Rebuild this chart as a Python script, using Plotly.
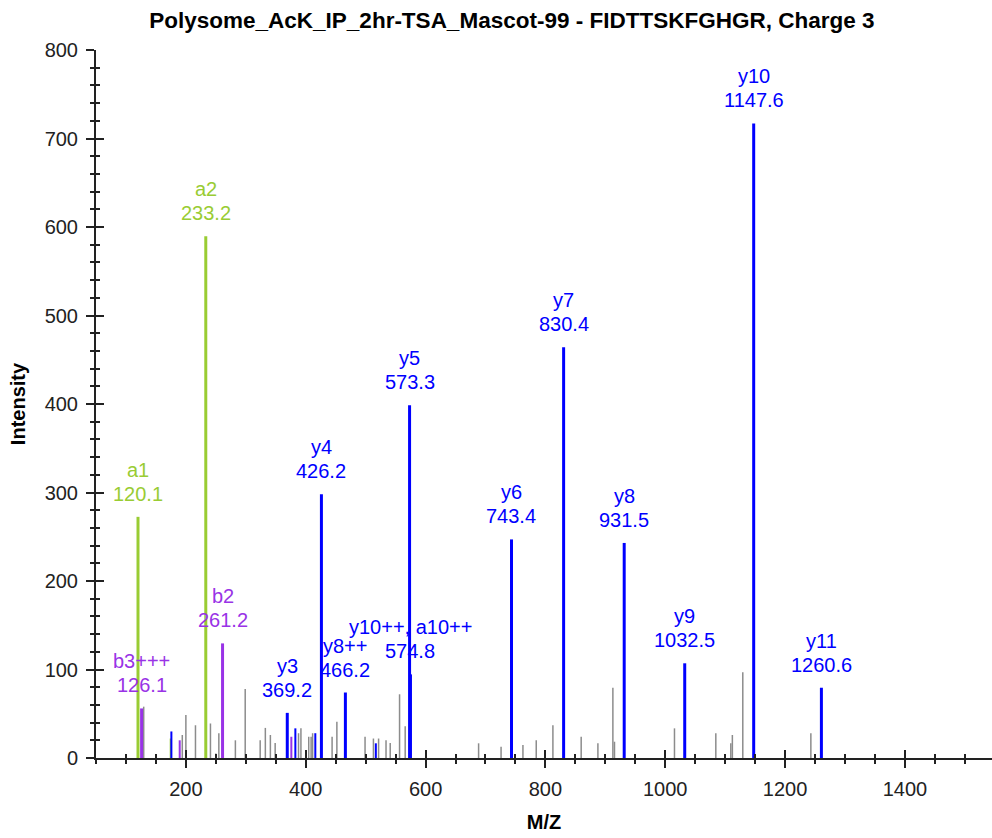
import plotly.graph_objects as go

# ---------------- data ----------------
label_names = ["a1", "b3+++", "a2", "b2", "y3", "y4", "y8++", "y5", "y10++, a10++",
               "y6", "y7", "y8", "y9", "y10", "y11"]
label_mz = [120.1, 126.1, 233.2, 261.2, 369.2, 426.2, 466.2, 573.3, 574.8,
            743.4, 830.4, 931.5, 1032.5, 1147.6, 1260.6]
label_int = [272.5, 56, 589.5, 129.5, 51, 298, 74, 398.6, 94.5,
             247, 464, 243, 107, 717, 79.4]
label_ion = ["a", "b", "a", "b", "y", "y", "y", "y", "y",
             "y", "y", "y", "y", "y", "y"]

blue_extra_mz = [175.8, 382.7, 416.0, 517.0]
blue_extra_int = [30, 33.5, 28, 16.6]
green_extra_mz = [174.7]
green_extra_int = [22]
purple_extra_mz = [189.7, 376.0]
purple_extra_int = [20, 24]

gray_mz = [129.6, 194, 200, 216, 241, 250, 255, 282.6, 299, 324, 332.6, 341, 349,
           388, 392, 405, 409, 411.5, 444, 452, 499, 513, 521.6, 534, 541, 556.6, 566,
           688.5, 726, 762.5, 784.7, 812.5, 859.7, 887.6, 912.6, 915.3,
           1015.4, 1084.4, 1109.4, 1112, 1129.4, 1243]
gray_int = [58, 26, 48.5, 37, 39, 5, 28, 20, 78, 20, 34, 26, 17,
            28, 33.5, 24, 24, 28, 24, 41, 24, 22, 22, 20, 17, 72, 36,
            16.6, 12.8, 14.7, 20, 37, 24, 16.6, 79.4, 18.4,
            33.5, 28, 16.6, 26, 96.8, 28]

title_text = "Polysome_AcK_IP_2hr-TSA_Mascot-99 - FIDTTSKFGHGR, Charge 3"
x_title = "M/Z"
y_title = "Intensity"

# ---------------- styles ----------------
ION_COLORS = {"a": "#99CC33", "b": "#9933E6", "y": "#0000FF"}
GRAY = "#8C8C8C"
FONT = "Liberation Sans, Arial, sans-serif"
LABEL_GAP = 23
LINE_STEP = 24


def sticks(mz, inten):
    xs, ys = [], []
    for m, h in zip(mz, inten):
        xs += [m, m, None]
        ys += [0, h, None]
    return xs, ys


fig = go.Figure()

gx, gy = sticks(gray_mz, gray_int)
fig.add_trace(go.Scatter(x=gx, y=gy, mode="lines", line=dict(color=GRAY, width=1.5),
                         hoverinfo="skip", showlegend=False))

extras = {"a": (green_extra_mz, green_extra_int),
          "b": (purple_extra_mz, purple_extra_int),
          "y": (blue_extra_mz, blue_extra_int)}
for ion, (em, ei) in extras.items():
    ex, ey = sticks(em, ei)
    fig.add_trace(go.Scatter(x=ex, y=ey, mode="lines",
                             line=dict(color=ION_COLORS[ion], width=2),
                             hoverinfo="skip", showlegend=False))

for ion in ["a", "b", "y"]:
    sel = [i for i, k in enumerate(label_ion) if k == ion]
    lx, ly = sticks([label_mz[i] for i in sel], [label_int[i] for i in sel])
    fig.add_trace(go.Scatter(x=lx, y=ly, mode="lines",
                             line=dict(color=ION_COLORS[ion], width=3),
                             hoverinfo="skip", showlegend=False))

for name, m, h, ion in zip(label_names, label_mz, label_int, label_ion):
    col = ION_COLORS[ion]
    fig.add_annotation(x=m, y=h, text=f"{m:.1f}", showarrow=False, yanchor="middle",
                       yshift=LABEL_GAP, font=dict(family=FONT, size=20, color=col))
    fig.add_annotation(x=m, y=h, text=name, showarrow=False, yanchor="middle",
                       yshift=LABEL_GAP + LINE_STEP, font=dict(family=FONT, size=20, color=col))

# overlay trace so the inside-tick axes get drawn
fig.add_trace(go.Scatter(x=[None], y=[None], xaxis="x2", yaxis="y2",
                         showlegend=False, hoverinfo="skip"))

AX = "#222222"
fig.update_layout(
    width=992, height=838,
    margin=dict(l=96, r=0, t=50, b=80, autoexpand=False),
    paper_bgcolor="white", plot_bgcolor="white",
    title=dict(text=title_text, x=0.516, xanchor="center", y=0.976, yanchor="middle",
               font=dict(family=FONT, size=22.5, color="black", weight="bold")),
    xaxis=dict(range=[50, 1545.3], showgrid=False, zeroline=False,
               showline=True, linecolor=AX, linewidth=2,
               ticks="outside", ticklen=8, tickwidth=2, tickcolor=AX,
               tick0=0, dtick=200, ticklabelstandoff=4,
               minor=dict(dtick=50, ticks="outside", ticklen=4, tickwidth=2, tickcolor=AX),
               tickfont=dict(family=FONT, size=20, color="#222222"),
               title=dict(text=x_title, standoff=16,
                          font=dict(family=FONT, size=20, color="black", weight="bold")),
               automargin=False, fixedrange=True),
    yaxis=dict(range=[0, 800], showgrid=False, zeroline=False,
               showline=True, linecolor=AX, linewidth=2,
               ticks="outside", ticklen=8, tickwidth=2, tickcolor=AX,
               tick0=0, dtick=100, ticklabelstandoff=4,
               minor=dict(dtick=20, ticks="outside", ticklen=4, tickwidth=2, tickcolor=AX),
               tickfont=dict(family=FONT, size=20, color="#222222"),
               title=dict(text=y_title, standoff=14,
                          font=dict(family=FONT, size=20, color="black", weight="bold")),
               automargin=False, fixedrange=True),
    xaxis2=dict(overlaying="x", matches="x", anchor="y2", showgrid=False, zeroline=False,
                showline=False, ticks="inside", ticklen=8, tickwidth=2, tickcolor=AX,
                tick0=0, dtick=200, showticklabels=False,
                minor=dict(dtick=50, ticks="inside", ticklen=4, tickwidth=2, tickcolor=AX)),
    yaxis2=dict(overlaying="y", matches="y", anchor="x2", showgrid=False, zeroline=False,
                showline=False, ticks="inside", ticklen=8, tickwidth=2, tickcolor=AX,
                tick0=0, dtick=100, showticklabels=False,
                minor=dict(dtick=20, ticks="inside", ticklen=4, tickwidth=2, tickcolor=AX)),
)

fig.write_html("out.html", config={"displayModeBar": False},
               post_script="document.body.style.margin='0';document.body.style.overflow='hidden';")
